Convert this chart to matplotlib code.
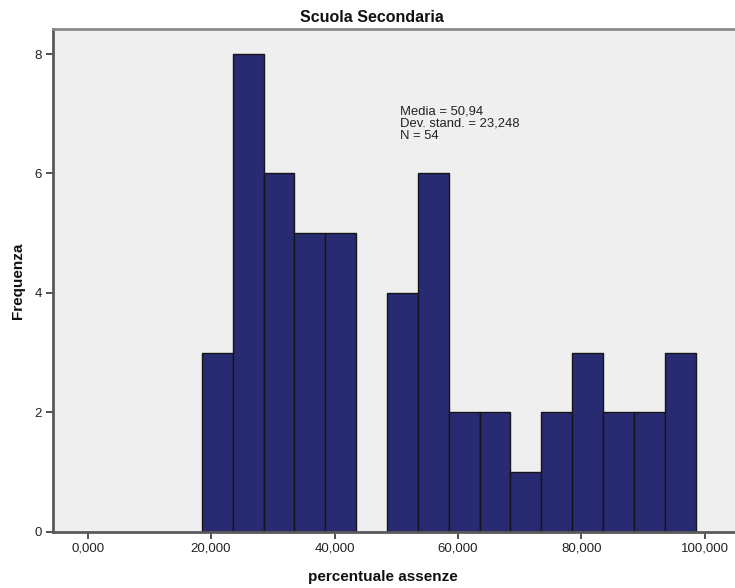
import numpy as np
import matplotlib
matplotlib.use("Agg")
import matplotlib.pyplot as plt
from matplotlib.ticker import FixedLocator

plt.rcParams['font.family'] = ['Liberation Sans', 'DejaVu Sans']

# histogram data (bins of width 5 starting at 18.5)
bin_start = 18.5
bin_width = 5.0
counts = [3, 8, 6, 5, 5, 0, 4, 6, 2, 2, 1, 2, 3, 2, 2, 3]
xticks = [0, 20, 40, 60, 80, 100]
xtick_labels = ["0,000", "20,000", "40,000", "60,000", "80,000", "100,000"]
yticks = [0, 2, 4, 6, 8]
title = "Scuola Secondaria"
xlabel = "percentuale assenze"
ylabel = "Frequenza"
stats = ["Media = 50,94", "Dev. stand. = 23,248", "N = 54"]

W, H = 735, 588
fig = plt.figure(figsize=(W / 100, H / 100), dpi=100)
ax = fig.add_axes([53 / W, 1 - 531.7 / H, (750 - 53) / W, (531.7 - 29) / H])

edges = bin_start + bin_width * np.arange(len(counts))
ax.bar(edges, counts, width=bin_width, align='edge', color='#292b72',
       edgecolor='#151515', linewidth=1.0, zorder=2)

ax.set_facecolor('#efefef')
ax.set_xlim(-5.6, 107.3)
ax.set_ylim(0, 8.42)

ax.xaxis.set_major_locator(FixedLocator(xticks))
ax.set_xticklabels(xtick_labels)
ax.set_yticks(yticks)
ax.tick_params(axis='both', direction='out', length=5, width=1.2,
               color='#333333', labelsize=9.5, labelcolor='#222222', pad=3)

for side in ['left', 'bottom']:
    ax.spines[side].set_color('#5a5a5a')
    ax.spines[side].set_linewidth(2)
ax.spines['top'].set_color('#8a8a8a')
ax.spines['top'].set_linewidth(2)
ax.spines['right'].set_visible(False)

fig.text(372 / W, 1 - 18 / H, title, ha='center', va='center',
         fontsize=11.5, fontweight='bold', color='#111111')
fig.text(383 / W, 1 - 577 / H, xlabel, ha='center', va='center',
         fontsize=11, fontweight='bold', color='#111111')
fig.text(18 / W, 1 - 281 / H, ylabel, ha='center', va='center', rotation=90,
         fontsize=11, fontweight='bold', color='#111111')

# summary stats box
ax.text(400.5 / W, 1 - 106 / H, "\n".join(stats), transform=fig.transFigure,
        ha='left', va='top', fontsize=9.4, linespacing=1.0, color='#222222')

fig.savefig("out.png", dpi=100)
